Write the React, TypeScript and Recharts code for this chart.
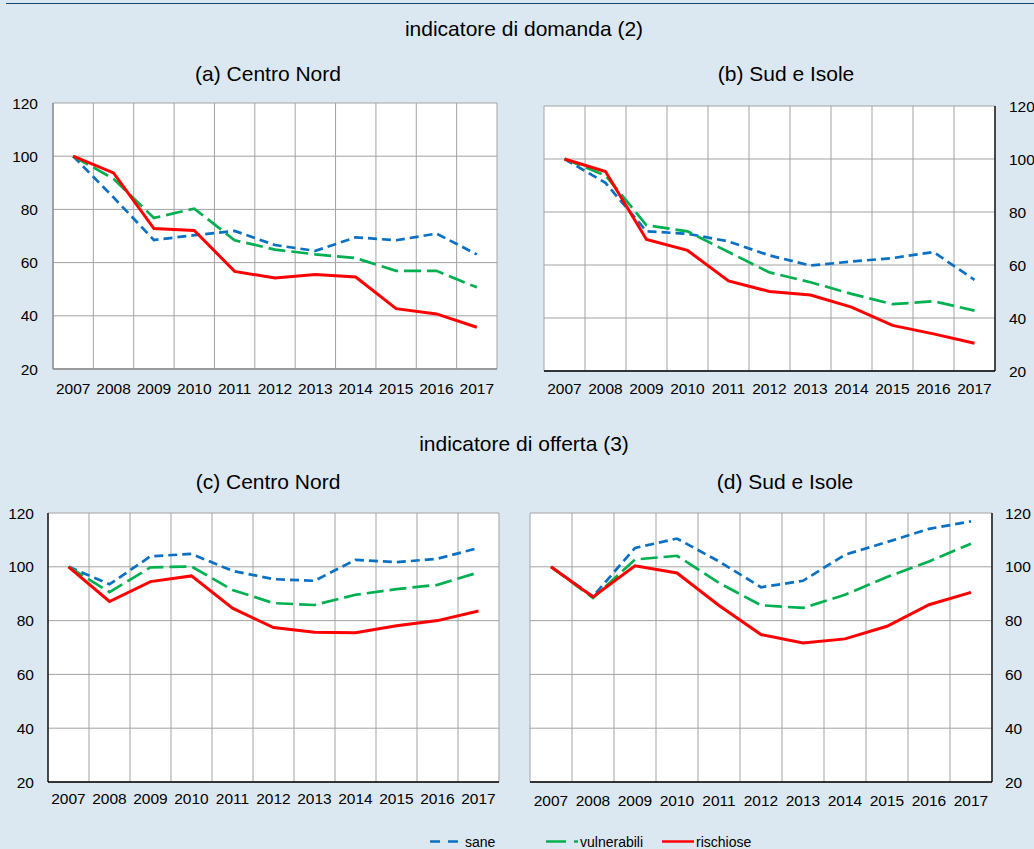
import React from 'react';
import { LineChart, Line, XAxis, YAxis, CartesianGrid } from 'recharts';

const FONT = '"Liberation Sans", Arial, Helvetica, sans-serif';

const years = ['2007', '2008', '2009', '2010', '2011', '2012', '2013', '2014', '2015', '2016', '2017'];
const yTicks = [20, 40, 60, 80, 100, 120];

const domandaCentroNordSane = [100, 84.5, 68.5, 70.3, 71.9, 66.6, 64.4, 69.5, 68.4, 70.9, 63.1];
const domandaCentroNordVulnerabili = [100, 91.5, 76.8, 80.3, 68.4, 64.9, 63.1, 61.7, 56.9, 56.9, 50.7];
const domandaCentroNordRischiose = [100, 93.7, 72.8, 72.1, 56.7, 54.2, 55.5, 54.6, 42.7, 40.7, 35.7];

const domandaSudSane = [100, 91, 72.7, 71.8, 68.9, 63.6, 59.8, 61.3, 62.6, 64.9, 54.4];
const domandaSudVulnerabili = [100, 93.8, 75.0, 72.7, 64.9, 57.2, 53.5, 49.1, 45.2, 46.3, 42.8];
const domandaSudRischiose = [100, 95.3, 69.6, 65.5, 54.0, 50.0, 48.7, 44.1, 37.2, 34.0, 30.5];

const offertaCentroNordSane = [100, 93.5, 103.9, 104.8, 98.5, 95.4, 94.8, 102.6, 101.7, 103.0, 107.0];
const offertaCentroNordVulnerabili = [100, 90.6, 99.8, 100.1, 91.4, 86.5, 85.8, 89.6, 91.7, 93.3, 97.9];
const offertaCentroNordRischiose = [100, 87.1, 94.5, 96.6, 84.6, 77.4, 75.7, 75.5, 78.1, 80.0, 83.6];

const offertaSudSane = [100, 89.0, 107.0, 110.5, 102.0, 92.4, 94.8, 104.5, 109.2, 114.1, 116.9];
const offertaSudVulnerabili = [100, 88.4, 102.7, 104.1, 94.0, 85.7, 84.7, 89.6, 96.2, 102.0, 108.6];
const offertaSudRischiose = [100, 88.8, 100.4, 97.7, 85.6, 74.8, 71.7, 73.2, 77.9, 85.9, 90.5];

const BLUE = '#0a70c4';
const GREEN = '#00b050';
const RED = '#ff0000';
const BG = '#dce8f1';

function rows(sane: number[], vuln: number[], risch: number[]) {
  return years.map((y, i) => ({ year: y, sane: sane[i], vulnerabili: vuln[i], rischiose: risch[i] }));
}

type PanelProps = {
  data: any[];
  L: number; T: number; R: number; B: number;
  side: 'left' | 'right';
  axisColor: string;
  xMargin: number;
  yMargin: number;
};

function Panel({ data, L, T, R, B, side, axisColor, xMargin, yMargin }: PanelProps) {
  const yW = 55;
  const pad = 10;
  const xH = 34;
  const pw = R - L;
  const ph = B - T;
  const width = yW + pw + pad;
  const height = pad + ph + xH;
  const left = side === 'left' ? L - yW : L - pad;
  const margin = side === 'left'
    ? { top: pad, right: pad, bottom: 0, left: 0 }
    : { top: pad, right: 0, bottom: 0, left: pad };
  const plotLeft = side === 'left' ? yW : pad;
  const tick = { fill: '#000', fontSize: 15.5, fontFamily: FONT };
  return (
    <div style={{ position: 'absolute', left, top: T - pad, width, height }}>
      <svg width={width} height={height} style={{ position: 'absolute', left: 0, top: 0 }}>
        <rect x={plotLeft} y={pad} width={pw} height={ph} fill="#ffffff" />
      </svg>
      <div style={{ position: 'absolute', left: 0, top: 0 }}>
        <LineChart width={width} height={height} data={data} margin={margin}>
          <CartesianGrid
            stroke="#a3a3a3"
            strokeWidth={1}
            verticalCoordinatesGenerator={(p: any) => {
              const o = (p && p.offset) || { left: plotLeft, width: pw };
              const out: number[] = [];
              for (let i = 0; i <= years.length; i++) out.push(o.left + (o.width * i) / years.length);
              return out;
            }}
          />
          <XAxis
            dataKey="year"
            scale="band"
            interval={0}
            tickLine={false}
            tickSize={0}
            tickMargin={xMargin}
            axisLine={{ stroke: axisColor, strokeWidth: 1.3 }}
            height={xH}
            tick={tick}
          />
          <YAxis
            orientation={side}
            width={yW}
            domain={[20, 120]}
            ticks={yTicks}
            interval={0}
            tickLine={false}
            tickSize={0}
            tickMargin={yMargin}
            axisLine={{ stroke: axisColor, strokeWidth: 1.3 }}
            tick={tick}
          />
          <Line type="linear" dataKey="sane" stroke={BLUE} strokeWidth={2.7} strokeDasharray="9 5" dot={false} isAnimationActive={false} />
          <Line type="linear" dataKey="vulnerabili" stroke={GREEN} strokeWidth={2.7} strokeDasharray="17 6" dot={false} isAnimationActive={false} />
          <Line type="linear" dataKey="rischiose" stroke={RED} strokeWidth={3} dot={false} isAnimationActive={false} />
        </LineChart>
      </div>
    </div>
  );
}

function Title({ text, x, y, size = 21 }: { text: string; x: number; y: number; size?: number }) {
  return (
    <div
      style={{
        position: 'absolute',
        left: x,
        top: y,
        transform: 'translate(-50%, -50%)',
        whiteSpace: 'nowrap',
        fontFamily: FONT,
        fontSize: size,
        lineHeight: 1,
        color: '#000',
      }}
    >
      {text}
    </div>
  );
}

export default function App() {
  return (
    <div style={{ position: 'absolute', left: 0, top: 0, width: 1034, height: 849, backgroundColor: BG, overflow: 'hidden' }}>
      <style>{'body{margin:0}'}</style>
      <div style={{ position: 'absolute', left: 6, top: 2.5, width: 1028, height: 1.5, background: '#14476b' }} />

      <Title text="indicatore di domanda (2)" x={524} y={28} />
      <Title text="(a) Centro Nord" x={268} y={73} />
      <Title text="(b) Sud e Isole" x={786} y={73} />
      <Title text="indicatore di offerta (3)" x={524} y={443} />
      <Title text="(c) Centro Nord" x={268} y={481} />
      <Title text="(d) Sud e Isole" x={785} y={481} />

      <Panel data={rows(domandaCentroNordSane, domandaCentroNordVulnerabili, domandaCentroNordRischiose)}
        L={53} T={103} R={497} B={369} side="left" axisColor="#8a8a8a" xMargin={14} yMargin={15} />
      <Panel data={rows(domandaSudSane, domandaSudVulnerabili, domandaSudRischiose)}
        L={544} T={106} R={995} B={371} side="right" axisColor="#000" xMargin={12} yMargin={14} />
      <Panel data={rows(offertaCentroNordSane, offertaCentroNordVulnerabili, offertaCentroNordRischiose)}
        L={48} T={513} R={499} B={782} side="left" axisColor="#000" xMargin={11} yMargin={14} />
      <Panel data={rows(offertaSudSane, offertaSudVulnerabili, offertaSudRischiose)}
        L={530} T={513} R={992} B={782} side="right" axisColor="#000" xMargin={13} yMargin={13} />

      <svg style={{ position: 'absolute', left: 0, top: 830 }} width={1034} height={19}>
        <line x1={430} x2={458} y1={11.5} y2={11.5} stroke={BLUE} strokeWidth={2.5} strokeDasharray="10 8" />
        <text x={465} y={16.5} fontFamily={FONT} fontSize={14} fill="#000">sane</text>
        <line x1={546} x2={578} y1={11.5} y2={11.5} stroke={GREEN} strokeWidth={2.5} strokeDasharray="20 8" />
        <text x={580} y={16.5} fontFamily={FONT} fontSize={14} fill="#000">vulnerabili</text>
        <line x1={662} x2={694} y1={11.5} y2={11.5} stroke={RED} strokeWidth={2.5} />
        <text x={696} y={16.5} fontFamily={FONT} fontSize={14} fill="#000">rischiose</text>
      </svg>
    </div>
  );
}
